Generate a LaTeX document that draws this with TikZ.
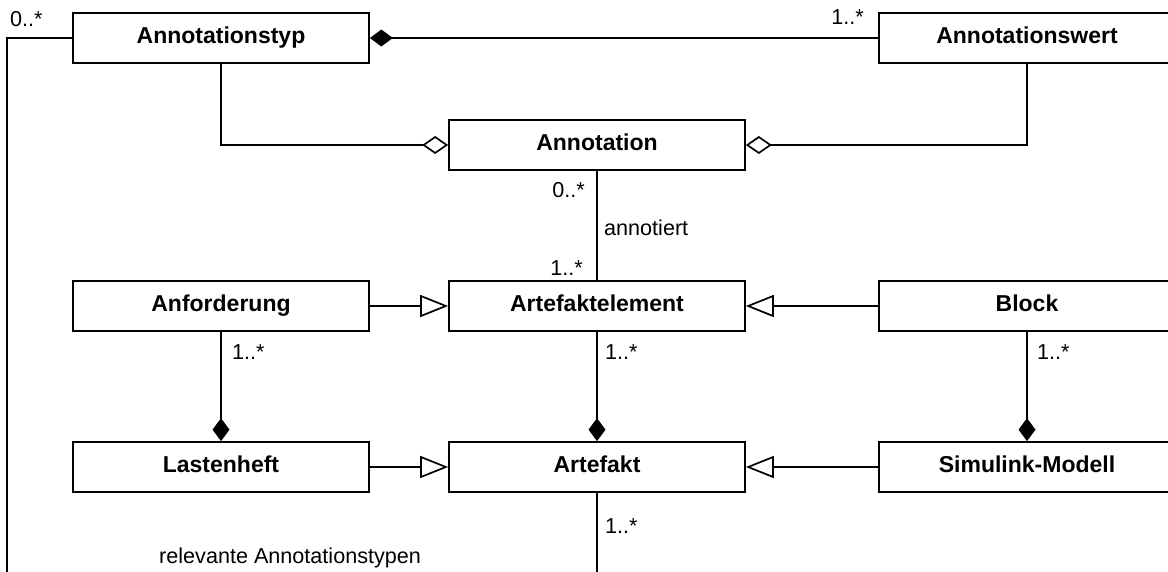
\documentclass[tikz,border=0pt]{standalone}
\usepackage{fontspec}
\setmainfont{Liberation Sans}
\usetikzlibrary{arrows.meta}
\begin{document}
\begin{tikzpicture}[x=1pt,y=-1pt,
 cls/.style={draw, line width=1.7pt, minimum width=296pt, minimum height=50pt, inner sep=0pt, text height=16.5pt, text depth=6pt, font=\fontsize{23}{26}\selectfont\bfseries},
 lbl/.style={inner sep=0pt, font=\fontsize{21.6}{24}\selectfont},
 conn/.style={line width=1.7pt},
 comp/.style={conn, -{Diamond[length=23pt,width=17pt]}},
 aggr/.style={conn, -{Diamond[open,length=26pt,width=18pt,fill=white]}},
 gen/.style={conn, -{Triangle[open,length=28pt,width=22pt,fill=white]}}
]
\useasboundingbox (0,0) rectangle (1168,572);
\fill[white] (0,0) rectangle (1168,572);

\node[cls] (typ) at (221,38) {Annotationstyp};
\node[cls] (wert) at (1027,38) {Annotationswert};
\node[cls] (ann) at (597,145) {Annotation};
\node[cls] (anf) at (221,306) {Anforderung};
\node[cls] (ae) at (597,306) {Artefaktelement};
\node[cls] (blk) at (1027,306) {Block};
\node[cls] (lh) at (221,467) {Lastenheft};
\node[cls] (af) at (597,467) {Artefakt};
\node[cls] (sm) at (1027,467) {Simulink-Modell};

\coordinate (bl) at (7,600);
\coordinate (bm) at (597,600);

\draw[comp] (wert.west) -- (typ.east);
\draw[aggr] (typ.south) |- (ann.west);
\draw[aggr] (wert.south) |- (ann.east);
\draw[conn] (ann.south) -- (ae.north);
\draw[gen] (anf.east) -- (ae.west);
\draw[gen] (blk.west) -- (ae.east);
\draw[gen] (lh.east) -- (af.west);
\draw[gen] (sm.west) -- (af.east);
\draw[comp] (anf.south) -- (lh.north);
\draw[comp] (ae.south) -- (af.north);
\draw[comp] (blk.south) -- (sm.north);
\draw[conn] (typ.west) -| (bl);
\draw[conn] (af.south) -- (bm);

\node[lbl, anchor=base west] (m1) at (10,27) {0..*};
\node[lbl, anchor=base east] (m2) at (864,25) {1..*};
\node[lbl, anchor=base east] (m3) at (585,198) {0..*};
\node[lbl, anchor=base west] (l1) at (604,236) {annotiert};
\node[lbl, anchor=base east] (m4) at (583,276) {1..*};
\node[lbl, anchor=base west] (m5) at (232,359) {1..*};
\node[lbl, anchor=base west] (m6) at (605,359) {1..*};
\node[lbl, anchor=base west] (m7) at (1037,359) {1..*};
\node[lbl, anchor=base west] (m8) at (605,533) {1..*};
\node[lbl, anchor=base west] (l2) at (159,563) {relevante Annotationstypen};
\end{tikzpicture}
\end{document}
